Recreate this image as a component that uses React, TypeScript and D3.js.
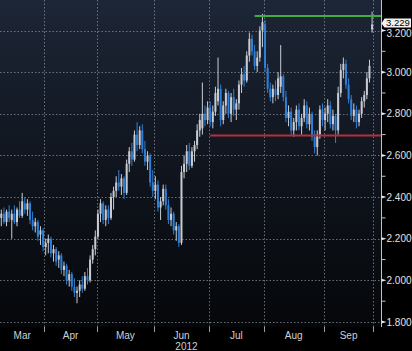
import React from 'react';
import * as d3 from 'd3';

const monthLabels = ['Mar', 'Apr', 'May', 'Jun', 'Jul', 'Aug', 'Sep'];
const monthBarCounts = [17, 20, 22, 21, 21, 23, 19];
const yearLabel = '2012';
const yTicks = [1.8, 2.0, 2.2, 2.4, 2.6, 2.8, 3.0, 3.2];
const yMinorTicks = [1.9, 2.1, 2.3, 2.5, 2.7, 2.9, 3.1];

const opens = [
  2.30, 2.32, 2.28, 2.33, 2.29, 2.32, 2.28, 2.34, 2.31, 2.37, 2.34, 2.37, 2.29, 2.26, 2.28, 2.22, 2.24,
  2.16, 2.18, 2.20, 2.13, 2.15, 2.10, 2.12, 2.05, 2.07, 2.00, 2.03, 1.97, 1.94, 1.95, 1.98, 1.96, 2.02, 2.00, 2.10, 2.15,
  2.21, 2.32, 2.37, 2.29, 2.34, 2.30, 2.40, 2.43, 2.47, 2.45, 2.49, 2.42, 2.56, 2.62, 2.58, 2.70, 2.65, 2.72, 2.63, 2.57, 2.60, 2.47,
  2.43, 2.46, 2.35, 2.38, 2.44, 2.36, 2.29, 2.32, 2.24, 2.26, 2.18, 2.52, 2.56, 2.62, 2.55, 2.62, 2.65, 2.72, 2.73, 2.80, 2.77,
  2.83, 2.76, 2.81, 2.86, 2.92, 2.77, 2.84, 2.90, 2.80, 2.88, 2.82, 2.85, 2.94, 2.99, 2.96, 3.08, 3.16, 3.10, 3.03, 3.07, 3.20,
  3.23, 3.02, 2.92, 2.88, 2.92, 2.89, 2.93, 2.98, 2.88, 2.78, 2.81, 2.72, 2.76, 2.82, 2.74, 2.78, 2.84, 2.75, 2.80, 2.69, 2.64, 2.70, 2.82,
  2.77, 2.80, 2.84, 2.75, 2.79, 2.72, 2.90, 3.01, 3.04, 2.94, 2.87, 2.79, 2.82, 2.76, 2.80, 2.86, 2.89, 2.97, 3.205,
];
const highs = [
  2.34, 2.35, 2.34, 2.36, 2.34, 2.36, 2.35, 2.38, 2.42, 2.40, 2.39, 2.38, 2.33, 2.30, 2.29, 2.26, 2.25,
  2.20, 2.22, 2.21, 2.17, 2.16, 2.14, 2.13, 2.09, 2.08, 2.05, 2.04, 2.01, 1.97, 2.00, 2.02, 2.04, 2.06, 2.12, 2.17, 2.24,
  2.34, 2.39, 2.38, 2.36, 2.36, 2.42, 2.45, 2.50, 2.53, 2.51, 2.50, 2.58, 2.64, 2.66, 2.72, 2.76, 2.74, 2.75, 2.67, 2.62, 2.61, 2.53,
  2.50, 2.48, 2.40, 2.46, 2.46, 2.39, 2.35, 2.33, 2.28, 2.27, 2.55, 2.60, 2.65, 2.66, 2.64, 2.67, 2.75, 2.80, 2.95, 2.84, 2.86,
  2.86, 2.84, 2.93, 3.07, 2.94, 2.86, 2.92, 2.91, 2.90, 2.92, 2.87, 2.96, 3.02, 3.03, 3.10, 3.19, 3.18, 3.13, 3.10, 3.22, 3.28,
  3.25, 3.04, 2.95, 2.94, 2.96, 3.00, 3.13, 2.99, 2.91, 2.84, 2.83, 2.78, 2.84, 2.85, 2.80, 2.87, 2.86, 2.83, 2.81, 2.72, 2.72, 2.84, 2.85,
  2.83, 2.87, 2.86, 2.82, 2.80, 2.93, 3.04, 3.07, 3.06, 2.97, 2.89, 2.85, 2.84, 2.82, 2.88, 2.91, 3.00, 3.06, 3.29,
];
const lows = [
  2.26, 2.27, 2.26, 2.28, 2.20, 2.27, 2.26, 2.30, 2.30, 2.32, 2.31, 2.27, 2.24, 2.23, 2.19, 2.17, 2.14,
  2.12, 2.13, 2.11, 2.09, 2.07, 2.06, 2.03, 2.02, 1.98, 1.97, 1.95, 1.92, 1.89, 1.92, 1.94, 1.95, 1.98, 1.99, 2.08, 2.12,
  2.20, 2.28, 2.27, 2.26, 2.27, 2.29, 2.34, 2.40, 2.43, 2.41, 2.39, 2.41, 2.52, 2.55, 2.57, 2.62, 2.63, 2.61, 2.55, 2.53, 2.45, 2.40,
  2.39, 2.33, 2.29, 2.36, 2.34, 2.27, 2.26, 2.22, 2.19, 2.16, 2.17, 2.49, 2.52, 2.53, 2.54, 2.57, 2.63, 2.69, 2.70, 2.74, 2.75,
  2.74, 2.73, 2.79, 2.84, 2.74, 2.75, 2.80, 2.78, 2.76, 2.79, 2.77, 2.82, 2.90, 2.93, 2.95, 3.05, 3.08, 3.01, 3.00, 3.05, 3.12,
  3.00, 2.90, 2.86, 2.85, 2.86, 2.87, 2.90, 2.86, 2.76, 2.74, 2.70, 2.69, 2.72, 2.72, 2.70, 2.76, 2.73, 2.72, 2.67, 2.61, 2.60, 2.68, 2.74,
  2.72, 2.76, 2.73, 2.72, 2.66, 2.70, 2.88, 2.97, 2.92, 2.85, 2.77, 2.76, 2.73, 2.74, 2.78, 2.83, 2.87, 2.95, 3.19,
];
const closes = [
  2.32, 2.28, 2.33, 2.30, 2.32, 2.28, 2.34, 2.31, 2.38, 2.34, 2.37, 2.29, 2.26, 2.28, 2.21, 2.24, 2.16,
  2.18, 2.20, 2.13, 2.15, 2.09, 2.12, 2.05, 2.07, 2.00, 2.03, 1.97, 1.94, 1.95, 1.98, 1.96, 2.02, 2.00, 2.10, 2.15, 2.21,
  2.32, 2.37, 2.29, 2.34, 2.30, 2.40, 2.43, 2.47, 2.45, 2.49, 2.42, 2.56, 2.62, 2.58, 2.70, 2.65, 2.72, 2.63, 2.57, 2.60, 2.47, 2.43,
  2.46, 2.35, 2.38, 2.44, 2.36, 2.29, 2.32, 2.24, 2.26, 2.18, 2.52, 2.56, 2.62, 2.55, 2.62, 2.65, 2.72, 2.77, 2.80, 2.77, 2.83,
  2.76, 2.81, 2.90, 2.92, 2.77, 2.84, 2.90, 2.80, 2.88, 2.82, 2.85, 2.94, 2.99, 2.96, 3.08, 3.16, 3.10, 3.03, 3.07, 3.20, 3.24,
  3.02, 2.92, 2.88, 2.92, 2.89, 2.97, 2.98, 2.88, 2.78, 2.81, 2.72, 2.76, 2.82, 2.74, 2.78, 2.84, 2.75, 2.80, 2.69, 2.64, 2.70, 2.82, 2.77,
  2.80, 2.84, 2.75, 2.79, 2.72, 2.90, 3.01, 3.04, 2.94, 2.87, 2.79, 2.82, 2.76, 2.80, 2.86, 2.89, 2.97, 3.03, 3.229,
];

const lastValueLabel = '3.229';
const resistanceLevel = 3.27;
const resistanceStartIndex = 97;
const supportLevel = 2.696;
const supportStartIndex = 80;

const W = 412;
const H = 351;
const plotRight = 381.5;
const plotBottom = 327;

export default function App() {
  const n = closes.length;
  const x = d3.scaleLinear().domain([-0.5, n - 0.5]).range([0, 373.4]);
  const y = d3.scaleLinear().domain([1.8, 3.2]).range([322, 30.5]);
  const bodyW = 2;

  const starts: number[] = [];
  let acc = 0;
  monthBarCounts.forEach((c) => {
    starts.push(acc);
    acc += c;
  });
  const boundaries = monthBarCounts.map((c, k) => starts[k] + c - 0.5);

  const upColor = '#c8ccd2';
  const downColor = '#2f7fd6';
  const lastY = y(closes[n - 1]) - 1;

  return (
    <svg
      width={W}
      height={H}
      style={{ position: 'absolute', left: 0, top: 0, background: '#000' }}
      fontFamily="'Liberation Sans', Arial, sans-serif"
    >
      <defs>
        <linearGradient id="bg" x1="0" y1="0" x2="0" y2="1">
          <stop offset="0%" stopColor="#1d2637" />
          <stop offset="50%" stopColor="#10151e" />
          <stop offset="100%" stopColor="#05070a" />
        </linearGradient>
      </defs>
      <rect x={0} y={0} width={W} height={H} fill="#000" />
      <rect x={0} y={0} width={plotRight} height={plotBottom} fill="url(#bg)" />

      {yTicks.map((t) => (
        <line
          key={'h' + t}
          x1={0}
          x2={plotRight}
          y1={Math.round(y(t)) + 0.5}
          y2={Math.round(y(t)) + 0.5}
          stroke="#8a9099"
          strokeWidth={1}
          strokeDasharray="1.5 2"
          opacity={0.75}
        />
      ))}
      {boundaries.map((b, k) => (
        <line
          key={'v' + k}
          x1={Math.round(x(b)) + 0.5}
          x2={Math.round(x(b)) + 0.5}
          y1={0}
          y2={plotBottom}
          stroke="#8a9099"
          strokeWidth={1}
          strokeDasharray="1.5 2"
          opacity={0.75}
        />
      ))}

      {closes.map((c, i) => {
        const o = opens[i];
        const up = c >= o;
        const col = up ? upColor : downColor;
        const cx = x(i);
        const top = y(Math.max(o, c));
        const bot = y(Math.min(o, c));
        return (
          <g key={'c' + i}>
            <line x1={cx} x2={cx} y1={y(highs[i])} y2={y(lows[i])} stroke={col} strokeWidth={1} />
            <rect x={cx - bodyW / 2} y={top} width={bodyW} height={Math.max(1, bot - top)} fill={col} />
          </g>
        );
      })}

      <line
        x1={x(resistanceStartIndex)}
        x2={plotRight}
        y1={y(resistanceLevel)}
        y2={y(resistanceLevel)}
        stroke="#3fae3f"
        strokeWidth={2}
      />
      <line
        x1={x(supportStartIndex)}
        x2={plotRight}
        y1={y(supportLevel)}
        y2={y(supportLevel)}
        stroke="#b3303c"
        strokeWidth={2}
      />

      <line x1={plotRight} x2={plotRight} y1={0} y2={plotBottom} stroke="#bfc3c8" strokeWidth={1} />
      {yMinorTicks.map((t) => (
        <line key={'m' + t} x1={plotRight} x2={plotRight + 4} y1={y(t)} y2={y(t)} stroke="#bfc3c8" strokeWidth={1} />
      ))}
      {yTicks.map((t) => (
        <g key={'yl' + t}>
          <polygon
            points={`${plotRight},${y(t) - 1.5} ${plotRight + 5},${y(t)} ${plotRight},${y(t) + 1.5}`}
            fill="#e6e6e6"
          />
          <text
            x={plotRight + 5}
            y={y(t)}
            dy={t === 3.2 ? '0.62em' : '0.36em'}
            fontSize={10}
            fill="#e2e2e2"
          >
            {d3.format('.3f')(t)}
          </text>
        </g>
      ))}

      <path
        d={`M${plotRight},${lastY} L${plotRight + 3},${lastY - 5} L${W - 1},${lastY - 5} L${W - 1},${lastY + 4} L${plotRight + 3},${lastY + 4} Z`}
        fill="#f2f2f2"
      />
      <text x={plotRight + 4.5} y={lastY - 0.5} dy="0.36em" fontSize={9.5} fill="#000">
        {lastValueLabel}
      </text>

      {boundaries.map((b, k) => (
        <line
          key={'xt' + k}
          x1={Math.round(x(b)) + 0.5}
          x2={Math.round(x(b)) + 0.5}
          y1={plotBottom}
          y2={plotBottom + 5}
          stroke="#9a9ea4"
          strokeWidth={1}
        />
      ))}
      {monthLabels.map((m, k) => {
        const a = k === 0 ? 0 : x(boundaries[k - 1]);
        const b = x(boundaries[k]);
        return (
          <text key={'ml' + m} x={(a + b) / 2} y={339} textAnchor="middle" fontSize={10} fill="#d0d0d0">
            {m}
          </text>
        );
      })}
      <text
        x={(x(boundaries[2]) + x(boundaries[3])) / 2 + 5}
        y={350}
        textAnchor="middle"
        fontSize={10}
        fill="#d0d0d0"
      >
        {yearLabel}
      </text>
    </svg>
  );
}
